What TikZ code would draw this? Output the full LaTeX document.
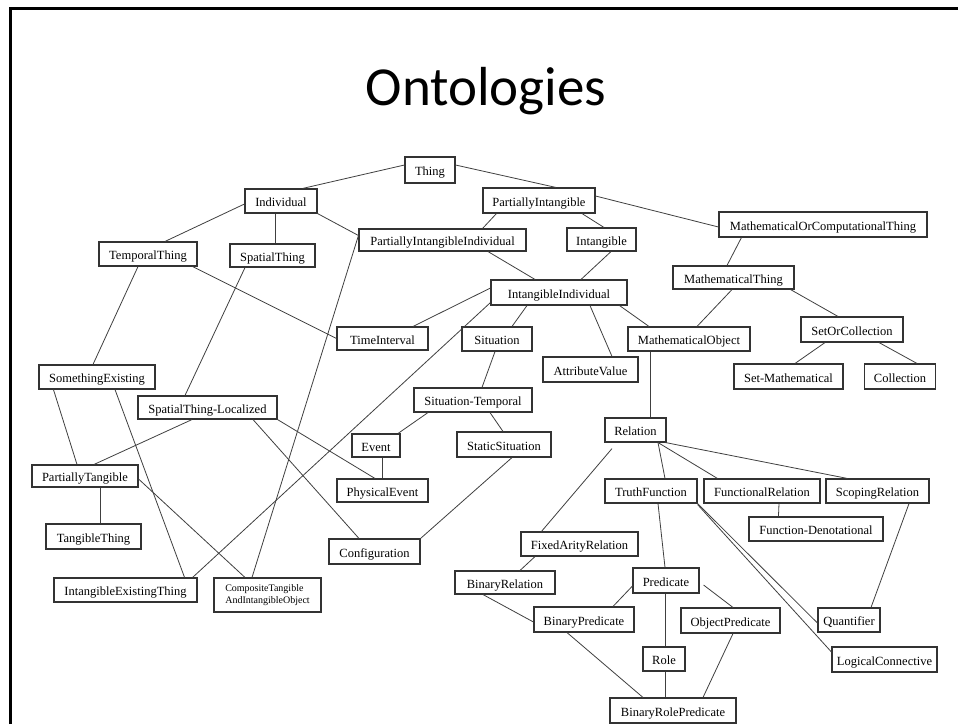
\documentclass[tikz,border=0pt]{standalone}
\usepackage{fontspec}
\newfontfamily\nodefont{Liberation Serif}
\newfontfamily\ttlfont{Carlito}
\usetikzlibrary{calc}
\tikzset{
  bx/.style={draw=black!80, line width=1.1pt, inner sep=0pt, fill=white,
    text height=11pt, text depth=0pt,
    font=\nodefont\fontsize{12.5}{14}\selectfont},
  ln/.style={draw=black!75, line width=0.8pt},
}
\newcommand\bxn[5]{\node[bx, minimum width=#4pt, minimum height=#5pt] (#1) at (#2) {#3};}
\begin{document}
\begin{tikzpicture}[x=1pt,y=-1pt]
\fill[white] (0,0) rectangle (958,724);
\useasboundingbox (0,0) rectangle (958,724);
\draw[line width=3pt, black] (10.5,724) -- (10.5,8.5) -- (958,8.5);
\node[font=\ttlfont\fontsize{55}{60}\selectfont, anchor=base, inner sep=0pt] (title) at (486,105) {Ontologies};

% nodes
\bxn{thing}{430,170}{Thing}{50}{26}
\bxn{indiv}{281,201}{Individual}{72}{24}
\bxn{temporal}{148,254}{TemporalThing}{98}{24}
\bxn{spatial}{272.5,255.5}{SpatialThing}{85}{23}
\bxn{pii}{442.5,240}{PartiallyIntangibleIndividual}{167}{22}
\bxn{pint}{539,200.5}{PartiallyIntangible}{112}{25}
\bxn{intang}{601.5,239.5}{Intangible}{69}{23}
\bxn{mcthing}{823,224.5}{MathematicalOrComputationalThing}{208}{25}
\bxn{mthing}{733.5,277.5}{MathematicalThing}{121}{23}
\bxn{iind}{559,292.5}{IntangibleIndividual}{136}{25}
\bxn{timeint}{382.5,338.5}{TimeInterval}{91}{23}
\bxn{situation}{497,339}{Situation}{70}{24}
\bxn{mobj}{689,339}{MathematicalObject}{122}{24}
\bxn{setcoll}{852,329.5}{SetOrCollection}{102}{25}
\bxn{attr}{590.5,369.5}{AttributeValue}{95}{25}
\bxn{setmath}{788.5,376.5}{Set-Mathematical}{109}{25}
\bxn{coll}{900,376.5}{Collection}{71}{25}
\bxn{sometex}{97,377}{SomethingExisting}{116}{24}
\bxn{stloc}{207.5,407.5}{SpatialThing-Localized}{139}{23}
\bxn{sittemp}{473,400}{Situation-Temporal}{118}{24}
\bxn{event}{376,445.5}{Event}{48}{23}
\bxn{static}{504,444.5}{StaticSituation}{94}{25}
\bxn{relation}{635.5,430}{Relation}{61}{24}
\bxn{ptang}{85,476}{PartiallyTangible}{106}{22}
\bxn{physev}{382.5,490.5}{PhysicalEvent}{91}{23}
\bxn{truthf}{651,491}{TruthFunction}{92}{24}
\bxn{funcrel}{762,491}{FunctionalRelation}{116}{24}
\bxn{scoping}{877.5,491}{ScopingRelation}{103}{24}
\bxn{tangible}{93.5,536.5}{TangibleThing}{95}{25}
\bxn{funcden}{816,529}{Function-Denotational}{134}{24}
\bxn{fixed}{579.5,544}{FixedArityRelation}{117}{24}
\bxn{config}{374.5,551.5}{Configuration}{91}{25}
\bxn{ietthing}{125.5,590}{IntangibleExistingThing}{143}{24}
\node[draw=black!80, line width=1.1pt, inner sep=0pt, fill=white,
  minimum width=107pt, minimum height=34pt, align=left,
  font=\nodefont\fontsize{10}{11.5}\selectfont] (composite) at (267.5,595)
  {CompositeTangible\\AndIntangibleObject};
\bxn{binrel}{505,582.5}{BinaryRelation}{100}{23}
\bxn{predicate}{666,580.5}{Predicate}{66}{25}
\bxn{binpred}{584,619.5}{BinaryPredicate}{100}{25}
\bxn{objpred}{730.5,620.5}{ObjectPredicate}{99}{25}
\bxn{quant}{849,620}{Quantifier}{62}{24}
\bxn{role}{664,659}{Role}{42}{24}
\bxn{logconn}{884.5,659.5}{LogicalConnective}{105}{25}
\bxn{binrolepred}{673,710.5}{BinaryRolePredicate}{126}{25}

% connectors
\draw[ln] ([yshift=5pt]thing.west) -- ([xshift=-15pt]indiv.north east);
\draw[ln] ([yshift=5pt]thing.east) -- ([xshift=17pt]pint.north);
\draw[ln] ([yshift=4.5pt]pint.east) -- ([yshift=-2.5pt]mcthing.west);
\draw[ln] ([xshift=14pt]pint.south west) -- ([xshift=-44pt]pii.north east);
\draw[ln] ([xshift=43pt]pint.south) -- ([xshift=2.5pt]intang.north);
\draw[ln] ([yshift=-3pt]indiv.west) -- ([xshift=17pt]temporal.north);
\draw[ln] ([xshift=-6pt]indiv.south) -- ([xshift=2.5pt]spatial.north);
\draw[ln] (indiv.south east) -- ([yshift=4.5pt]pii.west);
\draw[ln] ([xshift=-10pt]temporal.south) -- ([xshift=-4pt]sometex.north);
\draw[ln] ([xshift=-5pt]temporal.south east) -- (timeint.west);
\draw[ln] ([xshift=-27.5pt]spatial.south) -- ([xshift=-22.5pt]stloc.north);
\draw[ln] ([yshift=4.5pt]pii.west) -- ([xshift=-15.5pt]composite.north);
\draw[ln] ([xshift=45.5pt]pii.south) -- ([xshift=-24pt]iind.north);
\draw[ln] ([xshift=9.5pt]intang.south) -- ([xshift=22pt]iind.north);
\draw[ln] ([yshift=4.5pt]iind.west) -- ([xshift=30.5pt]timeint.north);
\draw[ln] ([yshift=3pt]iind.south west) -- ([xshift=-5pt]ietthing.north east);
\draw[ln] ([xshift=-32pt]iind.south) -- ([xshift=15pt]situation.north);
\draw[ln] ([xshift=31pt]iind.south) -- ([xshift=21.5pt]attr.north);
\draw[ln] ([xshift=-8pt]iind.south east) -- ([xshift=-40pt]mobj.north);
\draw[ln] ([xshift=23pt]mcthing.south west) -- ([xshift=-6.5pt]mthing.north);
\draw[ln] ([xshift=-1.5pt]mthing.south) -- ([xshift=8pt]mobj.north);
\draw[ln] ([xshift=-4pt]mthing.south east) -- ([xshift=-14pt]setcoll.north);
\draw[ln] ([xshift=-27pt]setcoll.south) -- ([xshift=6.5pt]setmath.north);
\draw[ln] ([xshift=27pt]setcoll.south) -- ([xshift=17pt]coll.north);
\draw[ln] ([xshift=-2pt]situation.south) -- ([xshift=9pt]sittemp.north);
\draw[ln] ([xshift=-45pt]sittemp.south) -- ([xshift=22pt]event.north);
\draw[ln] ([xshift=17pt]sittemp.south) -- ([xshift=-1pt]static.north);
\draw[ln] ([xshift=8pt]static.south) -- (config.north east);
\draw[ln] ([xshift=6.5pt]event.south) -- (physev.north);
\draw[ln] (stloc.south east) -- ([xshift=-7.5pt]physev.north);
\draw[ln] ([xshift=-15.5pt]stloc.south) -- ([xshift=9pt]ptang.north);
\draw[ln] ([xshift=45.5pt]stloc.south) -- ([xshift=-15.5pt]config.north);
\draw[ln] ([xshift=15pt]sometex.south west) -- ([xshift=-8pt]ptang.north);
\draw[ln] ([xshift=18pt]sometex.south) -- ([xshift=-13pt]ietthing.north east);
\draw[ln] ([xshift=15pt]ptang.south) -- ([xshift=6.5pt]tangible.north);
\draw[ln] ([yshift=-3pt]ptang.east) -- ([xshift=-22.5pt]composite.north);
\draw[ln] ([xshift=-39pt]mobj.south) -- ([xshift=14.5pt]relation.north);
\draw[ln] ([xshift=-23.5pt,yshift=-6pt]relation.south) -- ([xshift=21pt]fixed.north west);
\draw[ln] ([xshift=22.5pt]relation.south) -- ([xshift=14pt]truthf.north);
\draw[ln] ([xshift=22.5pt]relation.south) -- ([xshift=14pt]funcrel.north west);
\draw[ln] ([xshift=-1pt]relation.south east) -- ([xshift=22pt]scoping.north west);
\draw[ln] ([xshift=17pt]funcrel.south) -- ([xshift=30pt]funcden.north west);
\draw[ln] ([xshift=31.5pt]scoping.south) -- ([xshift=22pt]quant.north);
\draw[ln] (truthf.south east) -- ([yshift=-3pt]quant.west);
\draw[ln] ([yshift=-1pt]truthf.south east) -- ([yshift=7.5pt]logconn.west);
\draw[ln] ([xshift=7pt]truthf.south) -- ([xshift=-1pt]predicate.north);
\draw[ln] ([xshift=-44.5pt]fixed.south) -- ([xshift=15pt]binrel.north);
\draw[ln] ([xshift=-22pt]binrel.south) -- ([yshift=-2.5pt]binpred.west);
\draw[ln] ([yshift=-5.5pt]predicate.west) -- ([xshift=29pt]binpred.north);
\draw[ln] ([xshift=4pt,yshift=-4.5pt]predicate.east) -- ([xshift=2.5pt]objpred.north);
\draw[ln] ([xshift=-1pt]predicate.south) -- ([xshift=1pt]role.north);
\draw[ln] ([xshift=1pt]role.south) -- ([xshift=-8pt]binrolepred.north);
\draw[ln] ([xshift=-17pt]binpred.south) -- ([xshift=-30pt]binrolepred.north);
\draw[ln] ([xshift=2.5pt]objpred.south) -- ([xshift=30pt]binrolepred.north);
\end{tikzpicture}
\end{document}
